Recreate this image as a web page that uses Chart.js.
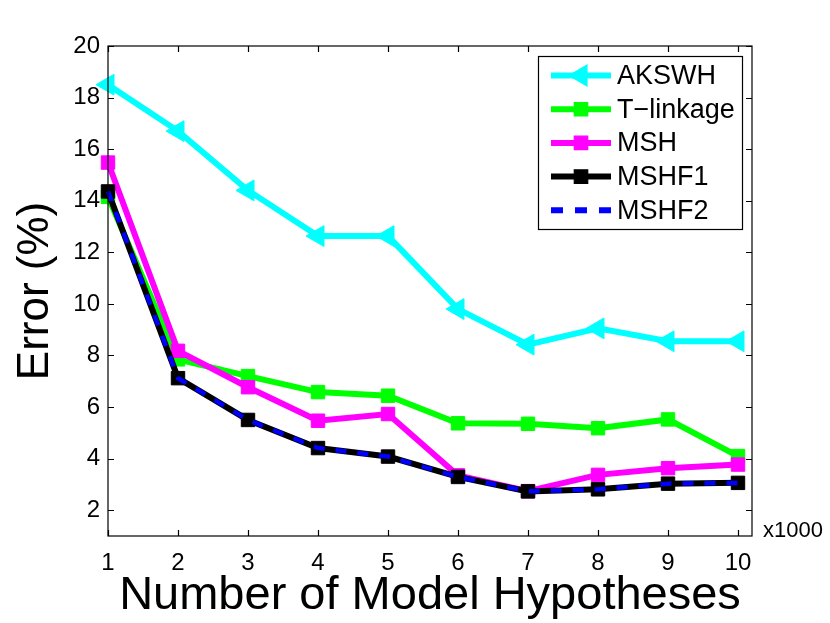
<!DOCTYPE html>
<html>
<head>
<meta charset="utf-8">
<script src="https://cdn.jsdelivr.net/npm/chart.js@4/dist/chart.umd.min.js"></script>
<style>
  html, body { margin: 0; padding: 0; background: #fff; }
  #wrap { width: 830px; height: 623px; position: relative; }
</style>
</head>
<body>
<div id="wrap"><canvas id="c" width="830" height="623"></canvas></div>
<script>
// ---- data ----
const hypotheses = [1, 2, 3, 4, 5, 6, 7, 8, 9, 10];
const xTicks = [1, 2, 3, 4, 5, 6, 7, 8, 9, 10];
const yTicks = [2, 4, 6, 8, 10, 12, 14, 16, 18, 20];
const seriesNames = ['AKSWH', 'T\u2212linkage', 'MSH', 'MSHF1', 'MSHF2'];
const akswh    = [18.5, 16.7, 14.4, 12.63, 12.63, 9.8, 8.42, 9.05, 8.55, 8.55];
const tlinkage = [14.15, 7.85, 7.2, 6.58, 6.44, 5.37, 5.35, 5.18, 5.52, 4.1];
const msh      = [15.48, 8.18, 6.77, 5.47, 5.73, 3.35, 2.74, 3.37, 3.63, 3.77];
const mshf1    = [14.36, 7.12, 5.5, 4.41, 4.08, 3.29, 2.73, 2.81, 3.03, 3.06];
const mshf2    = [14.36, 7.12, 5.5, 4.41, 4.08, 3.29, 2.73, 2.81, 3.03, 3.06];
const xUnitLabel = 'x1000';
const xTitle = 'Number of Model Hypotheses';
const yTitle = 'Error (%)';

const FONT = '"Liberation Sans", Arial, Helvetica, sans-serif';

function pts(vals) { return hypotheses.map((x, i) => ({ x: x, y: vals[i] })); }

const datasets = [
  { label: seriesNames[0], data: pts(akswh), borderColor: '#00ffff', backgroundColor: '#00ffff',
    borderWidth: 6, pointStyle: 'triangle', pointRotation: -90, pointRadius: 12,
    pointBorderWidth: 1, pointBorderColor: '#00ffff', pointBackgroundColor: '#00ffff', order: 4 },
  { label: seriesNames[1], data: pts(tlinkage), borderColor: '#00ff00', backgroundColor: '#00ff00',
    borderWidth: 6, pointStyle: 'rect', pointRadius: 9.5,
    pointBorderWidth: 1, pointBorderColor: '#00ff00', pointBackgroundColor: '#00ff00', order: 3 },
  { label: seriesNames[2], data: pts(msh), borderColor: '#ff00ff', backgroundColor: '#ff00ff',
    borderWidth: 6, pointStyle: 'rect', pointRadius: 9.5,
    pointBorderWidth: 1, pointBorderColor: '#ff00ff', pointBackgroundColor: '#ff00ff', order: 2 },
  { label: seriesNames[3], data: pts(mshf1), borderColor: '#000000', backgroundColor: '#000000',
    borderWidth: 6, pointStyle: 'rect', pointRadius: 9.5,
    pointBorderWidth: 1, pointBorderColor: '#000000', pointBackgroundColor: '#000000', order: 1 },
  { label: seriesNames[4], data: pts(mshf2), borderColor: '#0000ff', backgroundColor: '#0000ff',
    borderWidth: 4.5, borderDash: [11, 11], pointRadius: 0, order: 0 }
];
datasets.forEach(d => { d.fill = false; d.tension = 0; d.clip = false; d.pointHoverRadius = d.pointRadius; });

const framePlugin = {
  id: 'frame',
  afterDatasetsDraw(chart) {
    const ctx = chart.ctx, a = chart.chartArea;
    const xs = chart.scales.x, ys = chart.scales.y;
    ctx.save();
    ctx.strokeStyle = '#000';
    ctx.lineWidth = 1.2;
    ctx.strokeRect(a.left, a.top, a.right - a.left, a.bottom - a.top);
    ctx.beginPath();
    const tl = 6;
    xTicks.forEach(v => {
      const px = Math.round(xs.getPixelForValue(v)) + 0.5;
      ctx.moveTo(px, a.bottom); ctx.lineTo(px, a.bottom - tl);
      ctx.moveTo(px, a.top); ctx.lineTo(px, a.top + tl);
    });
    yTicks.forEach(v => {
      const py = Math.round(ys.getPixelForValue(v)) + 0.5;
      ctx.moveTo(a.left, py); ctx.lineTo(a.left + tl, py);
      ctx.moveTo(a.right, py); ctx.lineTo(a.right - tl, py);
    });
    ctx.stroke();
    // unit label
    ctx.fillStyle = '#000';
    ctx.font = '22px ' + FONT;
    ctx.textAlign = 'left';
    ctx.textBaseline = 'middle';
    ctx.fillText(xUnitLabel, a.right + 11, a.bottom - 5);

    // legend
    const bx = 538, by = 56, bw = 204, bh = 173;
    ctx.fillStyle = '#fff';
    ctx.fillRect(bx, by, bw, bh);
    ctx.lineWidth = 1.2;
    ctx.strokeStyle = '#000';
    ctx.strokeRect(bx + 0.5, by + 0.5, bw, bh);
    const rowY0 = 75.5, rowStep = 33.7;
    chart.data.datasets.forEach((d, i) => {
      const y = rowY0 + i * rowStep;
      ctx.save();
      ctx.strokeStyle = d.borderColor;
      ctx.lineWidth = d.borderDash ? 6 : d.borderWidth;
      ctx.setLineDash(d.borderDash ? [12, 12] : []);
      ctx.beginPath();
      ctx.moveTo(551, y); ctx.lineTo(611, y);
      ctx.stroke();
      ctx.restore();
      if (d.pointRadius > 0) {
        ctx.save();
        ctx.fillStyle = d.pointBackgroundColor;
        ctx.strokeStyle = d.pointBorderColor;
        ctx.setLineDash([]);
        Chart.helpers.drawPoint(ctx, {
          pointStyle: d.pointStyle, rotation: d.pointRotation || 0,
          radius: d.pointRadius, borderWidth: d.pointBorderWidth
        }, 581, y);
        ctx.restore();
      }
      ctx.fillStyle = '#000';
      ctx.font = '27px ' + FONT;
      ctx.textAlign = 'left';
      ctx.textBaseline = 'middle';
      ctx.fillText(d.label, 617, y + 1);
    });
    ctx.restore();
  }
};

new Chart(document.getElementById('c'), {
  type: 'line',
  data: { datasets: datasets },
  options: {
    responsive: false,
    animation: false,
    events: [],
    layout: { padding: { left: 0, top: 46, right: 78, bottom: 0 } },
    plugins: { legend: { display: false }, tooltip: { enabled: false } },
    scales: {
      x: {
        type: 'linear', min: 1, max: 10.2,
        afterBuildTicks: s => { s.ticks = xTicks.map(v => ({ value: v })); },
        afterFit: s => { s.height = 87; },
        grid: { display: false, drawTicks: false },
        border: { display: false },
        ticks: { autoSkip: false, maxRotation: 0, padding: 13, color: '#000',
                 font: { family: FONT, size: 24 } },
        title: { display: true, text: xTitle, color: '#000',
                 font: { family: FONT, size: 47, lineHeight: 1 }, padding: { top: 0, bottom: 3 } }
      },
      y: {
        type: 'linear', min: 1, max: 20,
        afterBuildTicks: s => { s.ticks = yTicks.map(v => ({ value: v })); },
        afterFit: s => { s.width = 108; },
        grid: { display: false, drawTicks: false },
        border: { display: false },
        ticks: { autoSkip: false, padding: 8, color: '#000',
                 font: { family: FONT, size: 24 } },
        title: { display: true, text: yTitle, color: '#000',
                 font: { family: FONT, size: 44, lineHeight: 1 }, padding: { top: 14, bottom: 0 } }
      }
    }
  },
  plugins: [framePlugin]
});
</script>
</body>
</html>
